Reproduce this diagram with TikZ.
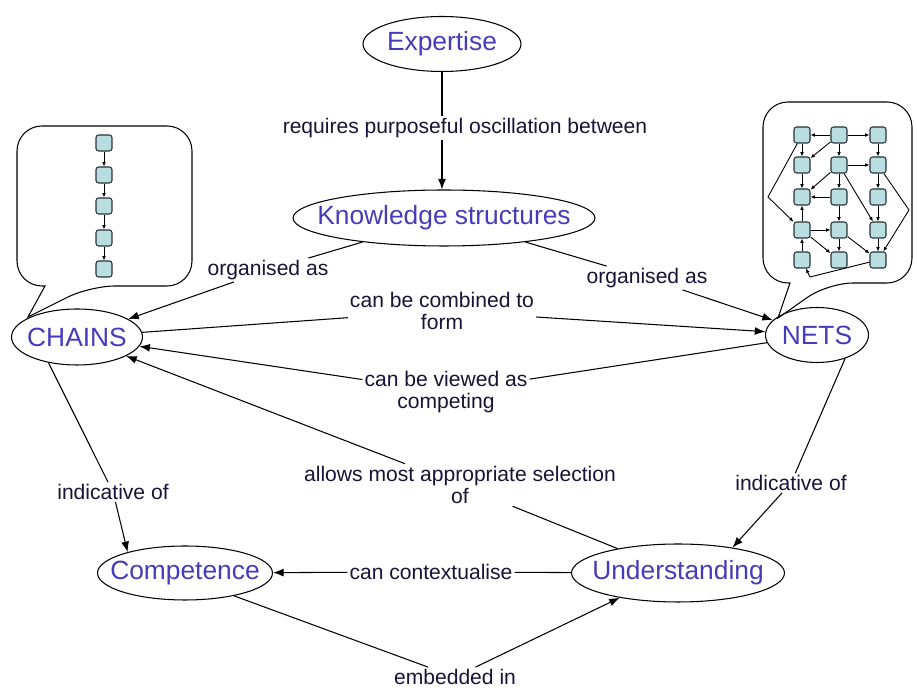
\documentclass[tikz,border=0pt]{standalone}
\usepackage{fontspec}
\setmainfont{Liberation Sans}
\usetikzlibrary{arrows.meta,shapes.geometric}

\begin{document}
\begin{tikzpicture}[x=0.02cm,y=-0.02cm,
    concept/.style={shape=ellipse,draw,line width=0.6pt,inner sep=0pt,text=cmap_text,font=\fontsize{15}{17}\selectfont},
    linklabel/.style={fill=white,inner sep=1pt,align=center,text=cmap_label,font=\fontsize{12}{13}\selectfont},
    cell/.style={shape=rectangle,draw=cmap_edge,fill=cmap_cell,rounded corners=1.5pt,minimum size=0.32cm,inner sep=0pt,line width=0.6pt},
    link/.style={line width=0.6pt},
    linkto/.style={line width=0.6pt,-{Latex[length=6pt,width=4.5pt]}},
    tinyto/.style={line width=0.5pt,-{Latex[length=2.5pt,width=2.2pt]}}]
    \definecolor{cmap_text}{RGB}{70,60,185}
    \definecolor{cmap_label}{RGB}{25,20,55}
    \definecolor{cmap_cell}{RGB}{184,222,226}
    \definecolor{cmap_edge}{RGB}{40,50,55}
    \useasboundingbox (0,0) rectangle (917,688);

    % callouts
    \draw[line width=0.6pt] (45,286) [rounded corners=0.5cm] -- (17,286) -- (17,126) -- (192,126) -- (192,286) -- (90,286) [sharp corners] -- (28,317) -- cycle;
    \draw[line width=0.6pt] (790,283) [rounded corners=0.5cm] -- (763,283) -- (763,102) -- (912,102) -- (912,283) -- (828,283) [sharp corners] -- (778,318) -- cycle;

    % chain
    \node[cell] (c1) at (104,143) {};
    \node[cell] (c2) at (104,175) {};
    \node[cell] (c3) at (104,206) {};
    \node[cell] (c4) at (104,238) {};
    \node[cell] (c5) at (104,269) {};
    \draw[tinyto] (c1) -- (c2);
    \draw[tinyto] (c2) -- (c3);
    \draw[tinyto] (c3) -- (c4);
    \draw[tinyto] (c4) -- (c5);

    % net
    \foreach \r/\y in {1/135,2/165,3/197,4/230,5/260}
        \foreach \c/\x in {1/802,2/839,3/878}
            \node[cell] (n\r\c) at (\x,\y) {};
    \coordinate (netW) at (768,197);
    \coordinate (netE) at (909,210);
    \coordinate (netS) at (810,277);
    \draw[tinyto] (n12) -- (n11);
    \draw[tinyto] (n12) -- (n13);
    \draw[tinyto] (n11) -- (n21);
    \draw[tinyto] (n12) -- (n21);
    \draw[tinyto] (n12) -- (n22);
    \draw[tinyto] (n13) -- (n23);
    \draw[tinyto] (n22) -- (n23);
    \draw[tinyto] (n21) -- (n31);
    \draw[tinyto] (n22) -- (n31);
    \draw[tinyto] (n22) -- (n32);
    \draw[tinyto] (n22) -- (n43);
    \draw[tinyto] (n23) -- (n33);
    \draw[tinyto] (n32) -- (n31);
    \draw[tinyto] (n41) -- (n31);
    \draw[tinyto] (n32) -- (n42);
    \draw[tinyto] (n33) -- (n43);
    \draw[tinyto] (n41) -- (n42);
    \draw[tinyto] (n41) -- (n52);
    \draw[tinyto] (n51) -- (n41);
    \draw[tinyto] (n42) -- (n52);
    \draw[tinyto] (n42) -- (n53);
    \draw[tinyto] (n43) -- (n53);
    \draw[tinyto] (n11) -- (netW) -- (n41);
    \draw[tinyto] (n23) -- (netE) -- (n53);
    \draw[tinyto] (n53) -- (netS) -- (n51);

    % concepts
    \node[concept,minimum width=3.16cm,minimum height=1.1cm] (expertise) at (442,44) {\makebox[0pt]{Expertise}};
    \node[concept,minimum width=6.04cm,minimum height=1.12cm] (knowledge) at (444,218) {\makebox[0pt]{Knowledge structures}};
    \node[concept,minimum width=2.62cm,minimum height=1.12cm] (chains) at (77,337) {\makebox[0pt]{CHAINS}};
    \node[concept,minimum width=2.06cm,minimum height=1.1cm] (nets) at (817,335) {\makebox[0pt]{NETS}};
    \node[concept,minimum width=3.5cm,minimum height=1.08cm] (competence) at (185,573) {\makebox[0pt]{Competence}};
    \node[concept,minimum width=4.26cm,minimum height=1.16cm] (understanding) at (678,573) {\makebox[0pt]{Understanding}};

    % link labels
    \node[linklabel] (lReq) at (465,128) {requires purposeful oscillation between};
    \node[linklabel] (lOrgL) at (268,270) {organised as};
    \node[linklabel] (lOrgR) at (647,278) {organised as};
    \node[linklabel] (lComb) at (442,311) {can be combined to\\form};
    \node[linklabel] (lComp) at (446,392) {can be viewed as\\competing};
    \node[linklabel] (lSel) at (460,485) {allows most appropriate selection\\of};
    \node[linklabel] (lIndL) at (113,492) {indicative of};
    \node[linklabel] (lIndR) at (791,483) {indicative of};
    \node[linklabel] (lCtx) at (431,572) {can contextualise};
    \node[linklabel] (lEmb) at (455,677) {embedded in};

    % links
    \draw[link] (expertise.south) -- (expertise.south |- lReq.north);
    \draw[linkto] (expertise.south |- lReq.south) -- (knowledge.north -| expertise.south);
    \draw[link] (knowledge) -- (lOrgL);
    \draw[linkto] (lOrgL) -- (chains);
    \draw[link] (knowledge) -- (lOrgR);
    \draw[linkto] (lOrgR) -- (nets);
    \draw[link] (chains) -- (lComb);
    \draw[linkto] (lComb) -- (nets);
    \draw[link] (nets) -- (lComp);
    \draw[linkto] (lComp) -- (chains);
    \draw[link] (understanding) -- (lSel);
    \draw[linkto] (lSel) -- (chains);
    \draw[link] (chains.222) -- (lIndL);
    \draw[linkto] (lIndL) -- (competence.160);
    \draw[link] (nets.320) -- (lIndR);
    \draw[linkto] (lIndR) -- (understanding.25);
    \draw[link] (understanding) -- (lCtx);
    \draw[linkto] (lCtx) -- (competence);
    \draw[link] (competence.335) -- (lEmb);
    \draw[linkto] (lEmb) -- (understanding.203);
\end{tikzpicture}
\end{document}
